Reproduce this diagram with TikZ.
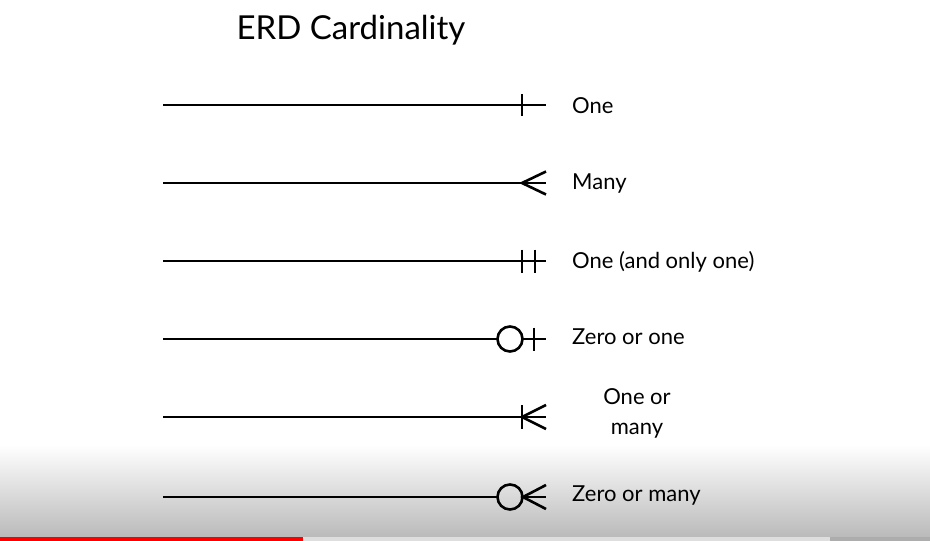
\documentclass[tikz,border=0pt]{standalone}
\usepackage{fontspec}
\setmainfont{Lato}
\usetikzlibrary{calc}
\begin{document}
\begin{tikzpicture}[x=1pt, y=-1pt,
    erd/.style={line width=2.6pt, black},
    lbl/.style={anchor=west, inner sep=0pt, font=\fontsize{22}{27}\selectfont}]
    \useasboundingbox (0,0) rectangle (930,541);
    % player bar at the bottom
    \shade[top color=white, bottom color=black!27] (0,445) rectangle (930,537);
    \fill[black!13] (0,537) rectangle (930,541);
    \fill[black!32] (830,537) rectangle (930,541);
    \fill[red] (0,537) rectangle (303,541);
    \node (title) at (351,30) {\fontsize{33}{40}\selectfont ERD Cardinality};
    \foreach \r/\y in {one/105, many/183, only/261, zone/339, omany/417, zmany/497} {
        \coordinate (\r-a) at (163,\y);
        \coordinate (\r-b) at (546,\y);
    }
    % one
    \draw[erd] (one-a) -- (one-b);
    \draw[erd] ($(one-b)+(-24,-11)$) -- ++(0,22);
    % many
    \draw[erd] (many-a) -- (many-b);
    \draw[erd] ($(many-b)+(0,-11.5)$) -- ($(many-b)+(-24,0)$) -- ($(many-b)+(0,11.5)$);
    % one and only one
    \draw[erd] (only-a) -- (only-b);
    \draw[erd] ($(only-b)+(-24,-11.5)$) -- ++(0,23);
    \draw[erd] ($(only-b)+(-11,-11.5)$) -- ++(0,23);
    % zero or one
    \coordinate (zone-c) at (510,339);
    \draw[erd] (zone-a) -- ($(zone-c)+(-12.5,0)$);
    \draw[erd] (zone-c) circle (12.5);
    \draw[erd] ($(zone-c)+(12.5,0)$) -- (zone-b);
    \draw[erd] ($(zone-b)+(-12,-11.5)$) -- ++(0,23);
    % one or many
    \draw[erd] (omany-a) -- (omany-b);
    \draw[erd] ($(omany-b)+(-24,-12)$) -- ++(0,24);
    \draw[erd] ($(omany-b)+(0,-12)$) -- ($(omany-b)+(-24,0)$) -- ($(omany-b)+(0,12)$);
    % zero or many
    \coordinate (zmany-c) at (510,497);
    \draw[erd] (zmany-a) -- ($(zmany-c)+(-12.5,0)$);
    \draw[erd] (zmany-c) circle (12.5);
    \draw[erd] ($(zmany-c)+(12.5,0)$) -- (zmany-b);
    \draw[erd] ($(zmany-b)+(0,-12)$) -- ($(zmany-b)+(-23,0)$) -- ($(zmany-b)+(0,12)$);
    % labels
    \node[lbl] (one-l) at (572,106) {One};
    \node[lbl] (many-l) at (572,184) {Many};
    \node[lbl] (only-l) at (572,262) {One (and only one)};
    \node[lbl] (zone-l) at (572,337) {Zero or one};
    \node[anchor=center, align=center, inner sep=0pt, font=\fontsize{22}{30}\selectfont] (omany-l) at (637,413) {One or\\many};
    \node[lbl] (zmany-l) at (572,495) {Zero or many};
\end{tikzpicture}
\end{document}
